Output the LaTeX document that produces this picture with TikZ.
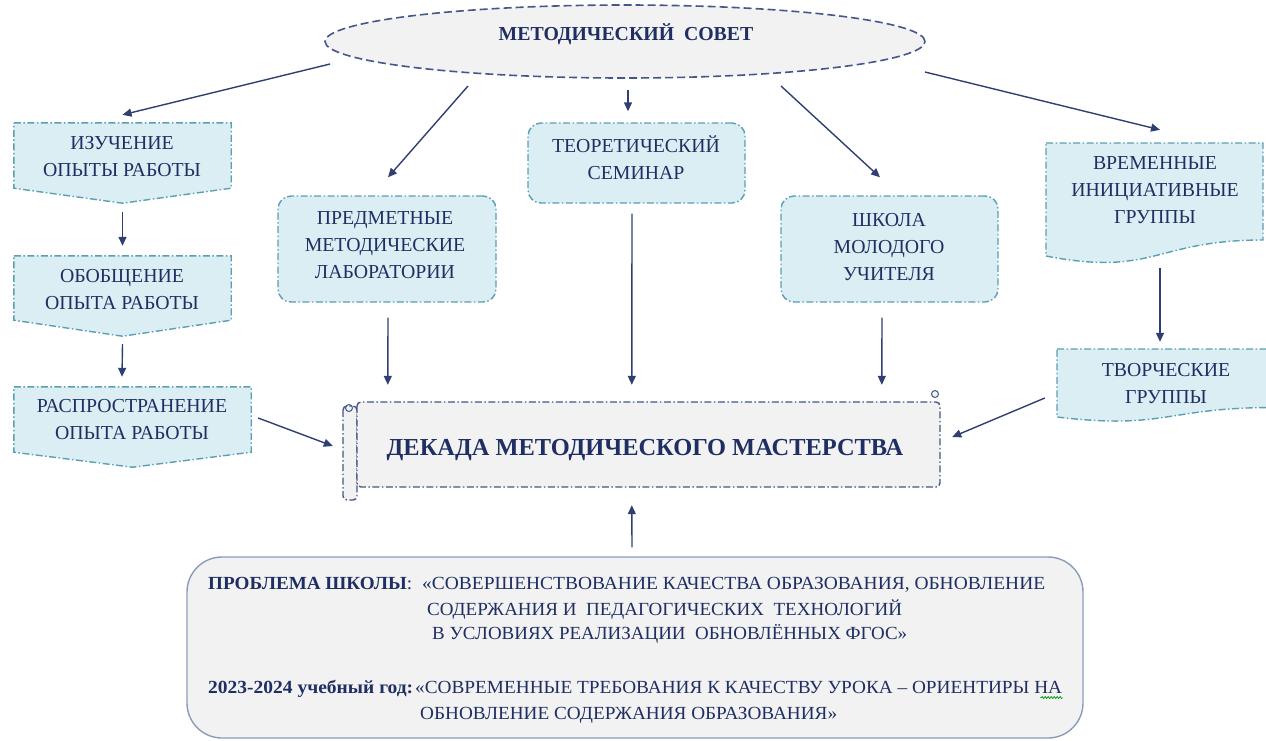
\documentclass[tikz,border=0pt]{standalone}
\usepackage{fontspec}
\setmainfont{Liberation Serif}
\usepackage{graphicx}
\usetikzlibrary{shapes.geometric,arrows.meta,calc,decorations.pathmorphing}
\definecolor{navy}{HTML}{1F2F63}
\definecolor{boxfill}{HTML}{DAEEF3}
\definecolor{boxline}{HTML}{5A9FB4}
\definecolor{grayfill}{HTML}{F2F2F2}
\definecolor{mainline}{HTML}{44568A}
\definecolor{arrowc}{HTML}{2F3F72}
\definecolor{probline}{HTML}{8A9CBA}
\newcommand{\fitw}[2]{\resizebox{#1}{\height}{#2}}
\begin{document}
\begin{tikzpicture}[x=1pt,y=-1pt,
  dd/.style={dash pattern=on 7pt off 2.5pt on 1.5pt off 2.5pt},
  btxt/.style={text=navy,font=\fontsize{19.8}{27}\selectfont,align=center,inner sep=0pt},
  region/.style={draw=none,inner sep=0pt},
  lb/.style={draw=boxline,fill=boxfill,line width=1.4pt,dd},
  ml/.style={draw=mainline,fill=grayfill,line width=1.4pt,dd},
  arr/.style={draw=arrowc,line width=1.4pt,-{Triangle[length=9pt,width=8pt]}},
  ptxt/.style={text=navy,font=\fontsize{18.5}{22}\selectfont,inner sep=0pt,anchor=base west},
]
\useasboundingbox (0,0) rectangle (1266,740);

% ---------- shapes ----------
\node[ellipse,draw=mainline,fill=grayfill,line width=1.6pt,dash pattern=on 8pt off 4pt,
      minimum width=600pt,minimum height=73pt,inner sep=0pt] (ms) at (625,41.5) {};

% left column (off-page connectors)
\node[region,minimum width=217pt,minimum height=65pt] (b1) at (122.5,155.5) {};
\node[region,minimum width=217pt,minimum height=64pt] (b2) at (122.5,288) {};
\node[region,minimum width=237pt,minimum height=65pt] (b3) at (132.5,419.5) {};
\draw[lb] (b1.north west) -- (b1.north east) -- (b1.south east) -- ([yshift=-15pt]b1.south) -- (b1.south west) -- cycle;
\draw[lb] (b2.north west) -- (b2.north east) -- (b2.south east) -- ([yshift=-16pt]b2.south) -- (b2.south west) -- cycle;
\draw[lb] (b3.north west) -- (b3.north east) -- (b3.south east) -- ([yshift=-15pt]b3.south) -- (b3.south west) -- cycle;

% rounded boxes
\node[lb,rounded corners=13pt,minimum width=218pt,minimum height=106pt,inner sep=0pt] (lab) at (387,249) {};
\node[lb,rounded corners=13pt,minimum width=217pt,minimum height=80pt,inner sep=0pt] (sem) at (636.5,163) {};
\node[lb,rounded corners=13pt,minimum width=217pt,minimum height=106pt,inner sep=0pt] (sch) at (889.5,249) {};

% document shapes (right)
\node[region,minimum width=217pt,minimum height=112pt] (tg) at (1154.5,199) {};
\draw[lb] (1046,143) -- (1263,143) -- (1263,240) .. controls (1154.5,240) and (1154.5,277) .. (1046,256) -- cycle;
\node[region,minimum width=217pt,minimum height=68pt] (cg) at (1165.5,383) {};
\draw[lb] (1057,349) -- (1274,349) -- (1274,407.5) .. controls (1165.5,407.5) and (1165.5,430) .. (1057,417) -- cycle;

% main scroll
\node[region,minimum width=597pt,minimum height=85pt] (main) at (641.5,444.5) {};
\draw[ml,rounded corners=4pt] (343,406) rectangle (357,500);
\draw[ml,rounded corners=4pt] (357,402) rectangle (940,487);
\draw[draw=mainline,line width=1pt] (349,408) circle (3.5pt);
\draw[draw=mainline,line width=1pt,fill=grayfill] (935,394) circle (3.5pt);

% bottom box
\node[draw=probline,fill=grayfill,line width=1.4pt,rounded corners=35pt,
      minimum width=896pt,minimum height=181pt,inner sep=0pt] (prob) at (635,647.5) {};

% ---------- texts ----------
\node[text=navy,inner sep=0pt,font=\fontsize{19.8}{22}\selectfont\bfseries] (mst) at (626,34.5) {МЕТОДИЧЕСКИЙ\ \ СОВЕТ};
\node[btxt] (t1) at (122,157) {ИЗУЧЕНИЕ\\ОПЫТЫ РАБОТЫ};
\node[btxt] (t2) at (122,290) {ОБОБЩЕНИЕ\\ОПЫТА РАБОТЫ};
\node[btxt] (t3) at (132,420) {РАСПРОСТРАНЕНИЕ\\ОПЫТА РАБОТЫ};
\node[btxt] (labt) at (385,245) {ПРЕДМЕТНЫЕ\\МЕТОДИЧЕСКИЕ\\ЛАБОРАТОРИИ};
\node[btxt] (semt) at (636,158) {ТЕОРЕТИЧЕСКИЙ\\СЕМИНАР};
\node[btxt] (scht) at (889,247) {ШКОЛА\\МОЛОДОГО\\УЧИТЕЛЯ};
\node[btxt] (tgt) at (1155,190.5) {ВРЕМЕННЫЕ\\ИНИЦИАТИВНЫЕ\\ГРУППЫ};
\node[btxt] (cgt) at (1166,383.5) {ТВОРЧЕСКИЕ\\ГРУППЫ};
\node[text=navy,inner sep=0pt,font=\fontsize{24.4}{28}\selectfont\bfseries] (maint) at (645,450) {ДЕКАДА МЕТОДИЧЕСКОГО МАСТЕРСТВА};

\node[ptxt] (p1a) at (208,589.5) {\fitw{204pt}{\textbf{ПРОБЛЕМА ШКОЛЫ}:}};
\node[ptxt] (p1b) at (422,589.5) {\fitw{623pt}{«СОВЕРШЕНСТВОВАНИЕ КАЧЕСТВА ОБРАЗОВАНИЯ, ОБНОВЛЕНИЕ}};
\node[ptxt] (p2) at (427,615) {\fitw{475pt}{СОДЕРЖАНИЯ И\ \ ПЕДАГОГИЧЕСКИХ\ \ ТЕХНОЛОГИЙ}};
\node[ptxt] (p3) at (432,639.5) {\fitw{475pt}{В УСЛОВИЯХ РЕАЛИЗАЦИИ\ \ ОБНОВЛЁННЫХ ФГОС»}};
\node[ptxt] (p4a) at (208,693.5) {\fitw{205pt}{\textbf{2023-2024 учебный год:}}};
\node[ptxt] (p4b) at (415,693.5) {\fitw{647pt}{«СОВРЕМЕННЫЕ ТРЕБОВАНИЯ К КАЧЕСТВУ УРОКА – ОРИЕНТИРЫ НА}};
\node[ptxt] (p5) at (420,719) {\fitw{417pt}{ОБНОВЛЕНИЕ СОДЕРЖАНИЯ ОБРАЗОВАНИЯ»}};
\draw[green!60!black,line width=0.7pt,decorate,decoration={zigzag,segment length=3pt,amplitude=1pt}]
  ([yshift=-4pt]p4b.base east) -- ++(-22pt,0);

% ---------- connectors ----------
\draw[arr] ($(ms.center)+(-295,22.5)$) -- ([yshift=8pt]b1.north);
\draw[arr] ($(ms.center)+(-157,44.5)$) -- ([shift={(1pt,18pt)}]lab.north);
\draw[arr] ($(ms.center)+(3,48.5)$) -- ([shift={(-8.5pt,11pt)}]sem.north);
\draw[arr] ($(ms.center)+(156,44.5)$) -- ([shift={(-9.5pt,18pt)}]sch.north);
\draw[arr] ($(ms.center)+(300,30.5)$) -- ([shift={(5.5pt,13pt)}]tg.north);

\draw[arr] ([yshift=-24pt]b1.south) -- ([yshift=10pt]b2.north);
\draw[arr] ([yshift=-24pt]b2.south) -- ([shift={(-10.5pt,10pt)}]b3.north);
\draw[arr] ([shift={(7pt,1.5pt)}]b3.east) -- ([shift={(-10pt,-1.5pt)}]main.west);

\draw[arr] ([shift={(1pt,-15pt)}]lab.south) -- ($(main.north west)+(45,-17)$);
\draw[arr] ([shift={(-4.5pt,-10pt)}]sem.south) -- ($(main.north west)+(289,-17)$);
\draw[arr] ([shift={(-7.5pt,-15pt)}]sch.south) -- ($(main.north west)+(539,-17)$);

\draw[arr] ([shift={(5.5pt,-13pt)}]tg.south) -- ([shift={(-5.5pt,7pt)}]cg.north);
\draw[arr] ([shift={(-12pt,-15pt)}]cg.west) -- ([shift={(12pt,7.5pt)}]main.east);
\draw[arr] ([shift={(-3pt,9pt)}]prob.north) -- ($(main.south west)+(289,18)$);
\end{tikzpicture}
\end{document}
